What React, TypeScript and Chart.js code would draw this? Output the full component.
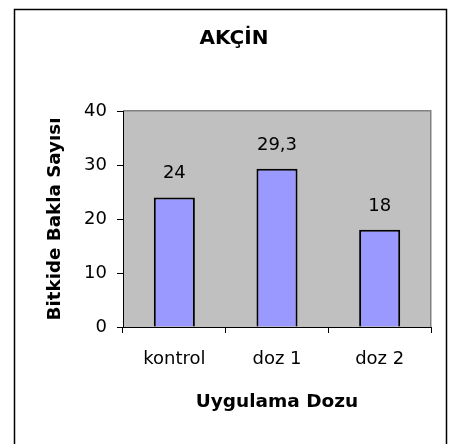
import { useEffect, useRef } from "react";
import { Chart, registerables } from "chart.js";

Chart.register(...registerables);

const categories = ["kontrol", "doz 1", "doz 2"];
const values = [24, 29.3, 18];
const yTicks = [0, 10, 20, 30, 40];
const chartTitle = "AKÇİN";
const xTitle = "Uygulama Dozu";
const yTitle = "Bitkide Bakla Sayısı";

const FONT = '"DejaVu Sans", sans-serif';

export default function App() {
  const ref = useRef<HTMLCanvasElement>(null);

  useEffect(() => {
    if (!ref.current) return;

    const deco = {
      id: "deco",
      beforeDraw(chart: any) {
        const { ctx, chartArea: a } = chart;
        ctx.save();
        ctx.fillStyle = "#ffffff";
        ctx.fillRect(0, 0, chart.width, chart.height);
        // outer frame
        ctx.strokeStyle = "#000000";
        ctx.lineWidth = 1.5;
        ctx.beginPath();
        ctx.moveTo(14.5, 460);
        ctx.lineTo(14.5, 9.5);
        ctx.lineTo(446.5, 9.5);
        ctx.lineTo(446.5, 460);
        ctx.stroke();
        // plot area
        ctx.fillStyle = "#c0c0c0";
        ctx.fillRect(a.left, a.top, a.right - a.left, a.bottom - a.top);
        ctx.strokeStyle = "#808080";
        ctx.lineWidth = 1.5;
        ctx.beginPath();
        ctx.moveTo(a.left, a.top - 0.25);
        ctx.lineTo(a.right - 0.25, a.top - 0.25);
        ctx.lineTo(a.right - 0.25, a.bottom);
        ctx.stroke();
        ctx.restore();
      },
      afterDatasetsDraw(chart: any) {
        const { ctx } = chart;
        const meta = chart.getDatasetMeta(0);
        ctx.save();
        ctx.fillStyle = "#000000";
        ctx.font = `18px ${FONT}`;
        ctx.textAlign = "center";
        ctx.textBaseline = "alphabetic";
        meta.data.forEach((el: any, i: number) => {
          ctx.fillText(String(values[i]).replace(".", ","), el.x, el.y - 19);
        });
        ctx.restore();
      },
      afterDraw(chart: any) {
        const { ctx, chartArea: a } = chart;
        ctx.save();
        ctx.fillStyle = "#000000";
        ctx.textAlign = "center";
        ctx.textBaseline = "alphabetic";
        ctx.font = `bold 20px ${FONT}`;
        ctx.fillText(chartTitle, 234, 43.5);
        ctx.font = `bold 18.5px ${FONT}`;
        ctx.fillText(xTitle, (a.left + a.right) / 2, 407);
        ctx.translate(60, (a.top + a.bottom) / 2);
        ctx.rotate(-Math.PI / 2);
        ctx.font = `bold 18.3px ${FONT}`;
        ctx.fillText(yTitle, 0, 0);
        ctx.restore();
      },
    };

    const chart = new Chart(ref.current, {
      type: "bar",
      data: {
        labels: categories,
        datasets: [
          {
            data: values,
            backgroundColor: "#9999ff",
            borderColor: "#000000",
            borderWidth: 2,
            barPercentage: 0.4,
            categoryPercentage: 1,
          },
        ],
      },
      options: {
        animation: false,
        responsive: true,
        maintainAspectRatio: false,
        layout: { padding: { top: 111, right: 18, bottom: 0, left: 0 } },
        plugins: {
          legend: { display: false },
          tooltip: { enabled: false },
          title: { display: false },
        },
        scales: {
          x: {
            grid: {
              display: true,
              drawOnChartArea: false,
              drawTicks: true,
              tickLength: 6,
              color: "#000000",
              offset: true,
            },
            border: { display: true, color: "#000000", width: 1 },
            ticks: {
              color: "#000000",
              font: { family: FONT, size: 18 },
              padding: 16,
            },
            afterFit(s: any) {
              s.height = 117;
            },
          },
          y: {
            min: yTicks[0],
            max: yTicks[yTicks.length - 1],
            afterBuildTicks(s: any) {
              s.ticks = yTicks.map((v) => ({ value: v }));
            },
            grid: {
              display: true,
              drawOnChartArea: false,
              drawTicks: true,
              tickLength: 6,
              color: "#000000",
            },
            border: { display: true, color: "#000000", width: 1 },
            ticks: {
              color: "#000000",
              font: { family: FONT, size: 18 },
              padding: 10,
            },
            afterFit(s: any) {
              s.width = 123;
            },
          },
        },
      },
      plugins: [deco],
    });

    return () => chart.destroy();
  }, []);

  return (
    <div style={{ position: "absolute", left: 0, top: 0, width: 449, height: 444 }}>
      <canvas ref={ref} />
    </div>
  );
}
